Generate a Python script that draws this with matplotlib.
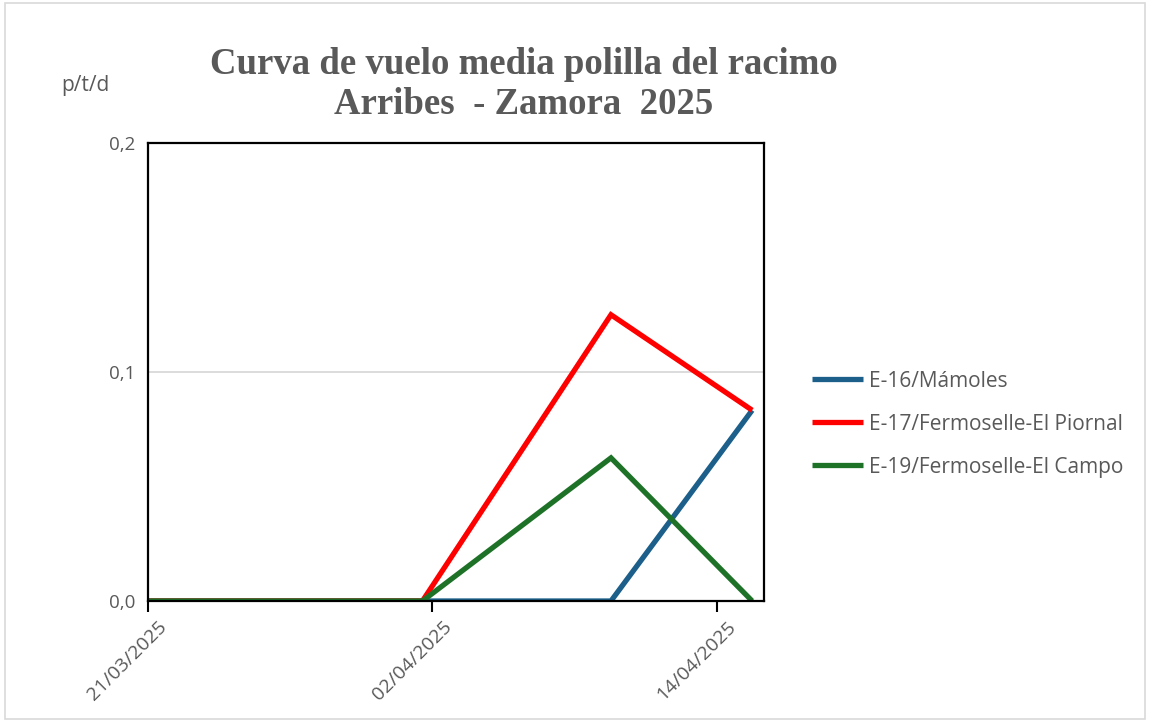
import matplotlib
matplotlib.use('Agg')
import matplotlib.pyplot as plt
import matplotlib.transforms as mtrans
import pandas as pd
from matplotlib.patches import Rectangle

# datos
fechas = pd.to_datetime(['2025-03-21 00:00', '2025-04-01 14:00', '2025-04-09 13:00', '2025-04-15 12:00'])
series = ['E-16/Mámoles', 'E-17/Fermoselle-El Piornal', 'E-19/Fermoselle-El Campo']
e16 = [0.0, 0.0, 0.0, 0.0833]
e17 = [0.0, 0.0, 0.125, 0.0833]
e19 = [0.0, 0.0, 0.0625, 0.0]
colores = ['#1b5f8a', '#ff0000', '#1e7228']

ticks_x = pd.to_datetime(['2025-03-21', '2025-04-02', '2025-04-14'])
ticks_y = [0.0, 0.1, 0.2]
gris = '#595959'

fig = plt.figure(figsize=(11.5, 7.23), dpi=100)
ax = fig.add_axes([148 / 1150, 1 - 601 / 723, (764 - 148) / 1150, (601 - 143) / 723])

# borde del area del grafico
fig.patches.append(Rectangle((5 / 1150, 4 / 723), 1140 / 1150, 716 / 723, transform=fig.transFigure,
                             fill=False, edgecolor='#d9d9d9', linewidth=1.2))

for vals, col, lab in zip([e16, e17, e19], colores, series):
  ax.plot(fechas, vals, color=col, linewidth=3.8, label=lab, solid_capstyle='butt', solid_joinstyle='miter')

ax.set_xlim(pd.Timestamp('2025-03-21'), pd.Timestamp('2025-04-16'))
ax.set_ylim(0, 0.2)
ax.set_yticks(ticks_y)
ax.set_yticklabels([('%.1f' % v).replace('.', ',') for v in ticks_y], fontsize=13.5, color=gris,
                   family='Open Sans')
ax.tick_params(axis='y', length=0, pad=9)
ax.set_xticks(ticks_x)
ax.set_xticklabels([d.strftime('%d/%m/%Y') for d in ticks_x], rotation=45, ha='right',
                   rotation_mode='anchor', fontsize=14, color=gris, family='Open Sans')
ax.tick_params(axis='x', length=8, width=1.5, color='black', pad=4)
offset = mtrans.ScaledTranslation(10 / 100, 0, fig.dpi_scale_trans)
for lbl in ax.get_xticklabels():
  lbl.set_transform(lbl.get_transform() + offset)

ax.yaxis.grid(True, color='#d9d9d9', linewidth=1.3)
ax.set_axisbelow(True)
for s in ax.spines.values():
  s.set_linewidth(1.6)
  s.set_color('black')

fig.text(524 / 1150, 1 - 64 / 723, 'Curva de vuelo media polilla del racimo', ha='center', va='center',
         fontsize=26.5, fontweight='bold', color=gris, family='Liberation Serif')
fig.text(524 / 1150, 1 - 105 / 723, 'Arribes  - Zamora  2025', ha='center', va='center',
         fontsize=26.5, fontweight='bold', color=gris, family='Liberation Serif')
fig.text(85 / 1150, 1 - 86 / 723, 'p/t/d', ha='center', va='center', fontsize=15, color=gris,
         family='Open Sans')

ax.legend(loc='upper left', bbox_to_anchor=(793 / 1150, 1 - 352 / 723), bbox_transform=fig.transFigure,
          frameon=False, prop={'family': 'Open Sans', 'size': 15}, labelcolor=gris, handlelength=2.45,
          handletextpad=0.3, labelspacing=1.05)

fig.savefig('out.png', dpi=100)
